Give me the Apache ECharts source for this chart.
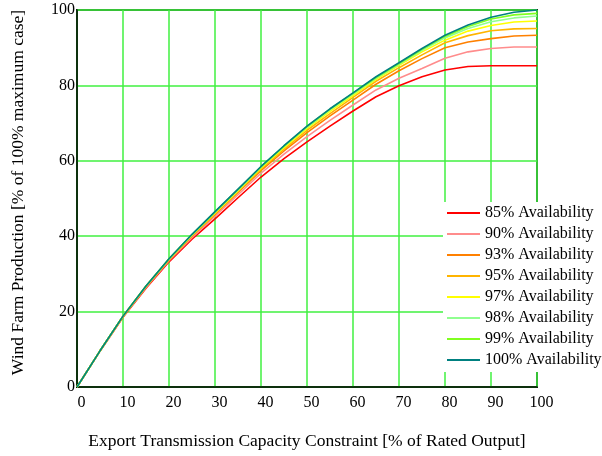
<!DOCTYPE html>
<html>
<head>
<meta charset="utf-8">
<script src="https://cdn.jsdelivr.net/npm/echarts@6/dist/echarts.min.js"></script>
<style>
  html, body { margin: 0; padding: 0; background: #ffffff; }
  #chart { width: 602px; height: 456px; }
</style>
</head>
<body>
<div id="chart"></div>
<script>
// Export transmission capacity constraint, % of rated output
const capacity = [0, 5, 10, 15, 20, 25, 30, 35, 40, 45, 50, 55, 60, 65, 70, 75, 80, 85, 90, 95, 100];

// Wind farm production, % of the 100% maximum case, per availability level
const avail85  = [0, 9.5, 18.5, 26.2, 33.2, 39.2, 44.6, 50.2, 55.7, 60.6, 65.0, 69.2, 73.2, 77.0, 79.9, 82.3, 84.1, 85.0, 85.2, 85.2, 85.2];
const avail90  = [0, 9.55, 18.6, 26.4, 33.5, 39.6, 45.3, 51.0, 56.7, 61.8, 66.4, 70.7, 74.8, 78.8, 81.9, 84.5, 87.2, 88.9, 89.8, 90.2, 90.2];
const avail93  = [0, 9.6, 18.7, 26.6, 33.7, 40.0, 45.8, 51.6, 57.4, 62.6, 67.5, 71.9, 76.1, 80.3, 83.9, 87.1, 90.0, 91.5, 92.4, 93.1, 93.3];
const avail95  = [0, 9.6, 18.7, 26.7, 33.8, 40.2, 46.0, 51.9, 57.8, 63.1, 68.1, 72.5, 76.8, 81.1, 84.7, 88.1, 91.3, 93.2, 94.5, 95.0, 95.1];
const avail97  = [0, 9.6, 18.75, 26.7, 33.9, 40.3, 46.2, 52.1, 58.1, 63.5, 68.6, 73.1, 77.3, 81.6, 85.3, 88.9, 92.0, 94.4, 95.9, 96.8, 97.1];
const avail98  = [0, 9.6, 18.8, 26.75, 33.95, 40.4, 46.35, 52.3, 58.3, 63.8, 68.9, 73.5, 77.7, 81.9, 85.6, 89.3, 92.6, 95.1, 96.9, 97.9, 98.4];
const avail99  = [0, 9.6, 18.8, 26.8, 34.0, 40.45, 46.45, 52.4, 58.4, 63.9, 69.1, 73.7, 77.9, 82.1, 85.8, 89.6, 93.0, 95.6, 97.6, 98.7, 99.1];
const avail100 = [0, 9.6, 18.8, 26.8, 34.0, 40.5, 46.5, 52.5, 58.5, 64.0, 69.2, 73.8, 78.0, 82.3, 86.0, 89.8, 93.3, 96.0, 98.1, 99.4, 100];

const seriesNames = ['85% Availability', '90% Availability', '93% Availability', '95% Availability',
                     '97% Availability', '98% Availability', '99% Availability', '100% Availability'];
const seriesValues = [avail85, avail90, avail93, avail95, avail97, avail98, avail99, avail100];
const seriesColors = ['#ff0000', '#ff8c8c', '#ff8000', '#ffb400', '#ffff00', '#90ff90', '#80ff20', '#008080'];

const xTicks = [0, 10, 20, 30, 40, 50, 60, 70, 80, 90, 100];
const yTicks = [0, 20, 40, 60, 80, 100];

const FONT = '"Liberation Serif", "DejaVu Serif", serif';
const GRID_GREEN = '#40f040';
const FRAME_DARK = '#1c3a1c';

const chart = echarts.init(document.getElementById('chart'), null, { renderer: 'canvas' });

const series = seriesNames.map((name, i) => ({
  name: name,
  type: 'line',
  showSymbol: false,
  symbol: 'none',
  smooth: false,
  animation: false,
  lineStyle: { color: seriesColors[i], width: 1.6 },
  itemStyle: { color: seriesColors[i] },
  data: capacity.map((c, k) => [c, seriesValues[i][k]])
}));

chart.setOption({
  animation: false,
  backgroundColor: '#ffffff',
  // dark frame on top/right; left and bottom are covered by the black axis lines
  grid: {
    left: 77, right: 65, top: 10, bottom: 69, containLabel: false,
    show: true, borderColor: FRAME_DARK, borderWidth: 2, backgroundColor: 'transparent'
  },
  xAxis: {
    type: 'value',
    min: xTicks[0], max: xTicks[xTicks.length - 1], interval: 10,
    name: 'Export Transmission Capacity Constraint [% of Rated Output]',
    nameLocation: 'middle', nameGap: 45,
    nameTextStyle: { fontFamily: FONT, fontSize: 17.5, color: '#000' },
    axisLine: { show: true, lineStyle: { color: '#000', width: 1.5 } },
    axisTick: { show: false },
    axisLabel: { fontFamily: FONT, fontSize: 16, color: '#000', margin: 8, padding: [0, 0, 0, 9] },
    splitLine: { show: true, lineStyle: { color: GRID_GREEN, width: 1.5, type: 'solid' } }
  },
  yAxis: {
    type: 'value',
    min: yTicks[0], max: yTicks[yTicks.length - 1], interval: 20,
    name: 'Wind Farm Production [% of 100% maximum case]',
    nameLocation: 'middle', nameGap: 50,
    nameTextStyle: { fontFamily: FONT, fontSize: 17.5, color: '#000', padding: [0, 0, 0, 12] },
    axisLine: { show: true, lineStyle: { color: '#000', width: 1.5 } },
    axisTick: { show: false },
    axisLabel: { fontFamily: FONT, fontSize: 16, color: '#000', margin: 2, padding: [10, 0, 0, 0] },
    splitLine: { show: true, lineStyle: { color: GRID_GREEN, width: 1.5, type: 'solid' } }
  },
  legend: {
    show: true,
    orient: 'vertical',
    left: 443, top: 202,
    padding: [3, 4, 4, 4],
    backgroundColor: '#ffffff',
    icon: 'rect',
    itemWidth: 33, itemHeight: 2,
    itemGap: 5, itemTextGap: 7,
    textStyle: { fontFamily: FONT, fontSize: 16, color: '#000', lineHeight: 16 },
    data: seriesNames,
    z: 10
  },
  series: series
});
</script>
</body>
</html>
